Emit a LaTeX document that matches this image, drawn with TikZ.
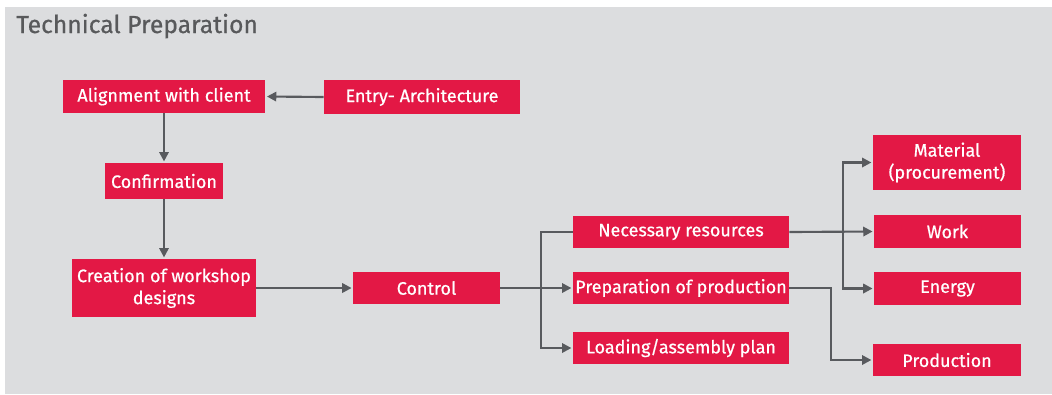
\documentclass[tikz,border=0pt]{standalone}
\usepackage{fontspec}
\setmainfont{Fira Sans}
\newfontfamily\boxfont{Fira Sans}[FakeBold=0.6]
\usetikzlibrary{arrows.meta}
\definecolor{boxred}{RGB}{227, 24, 69}
\definecolor{panelgray}{RGB}{220, 221, 223}
\definecolor{linegray}{RGB}{88, 90, 94}
\definecolor{titlegray}{RGB}{88, 89, 91}
\tikzstyle{arrow} = [line width=1.6pt, draw=linegray, -{Triangle[length=7pt,width=7pt]}]
\tikzstyle{link} = [line width=1.6pt, draw=linegray]
\tikzstyle{stage} = [fill=boxred, text=white, inner sep=0pt, align=center,
    font=\boxfont\fontsize{13.5}{16.5}\selectfont]

\begin{document}
\begin{tikzpicture}[x=0.75pt, y=-0.75pt]
        % Panel
        \useasboundingbox (0,0) rectangle (1052,394);
        \fill [panelgray] (5,7) rectangle (1052,394);
        \node (title) at (16,33) [anchor=base west, inner sep=0pt, text=titlegray,
        font=\boxfont\fontsize{18.5}{22}\selectfont] {Technical Preparation};

        % Left column
        \node (align) at (164,96.5) [stage, minimum width=152pt, minimum height=25pt] {Alignment with client};
        \node (entry) at (422,97) [stage, minimum width=147pt, minimum height=25.5pt] {Entry- Architecture};
        \node (confirm) at (164,181) [stage, minimum width=88.5pt, minimum height=27pt] {Confirmation};
        \node (create) at (164,288) [stage, minimum width=138pt, minimum height=43.5pt] {Creation of workshop\\designs};
        \node (control) at (426.5,288) [stage, minimum width=110pt, minimum height=24pt] {Control};

        % Middle column
        \node (resources) at (681,232) [stage, minimum width=162pt, minimum height=24pt] {Necessary resources};
        \node (prep) at (681,288) [stage, minimum width=162pt, minimum height=24pt] {Preparation of production};
        \node (loading) at (681,348) [stage, minimum width=162pt, minimum height=24pt] {Loading/assembly plan};

        % Right column
        \node (material) at (947,162.5) [stage, minimum width=111pt, minimum height=41pt] {Material\\(procurement)};
        \node (work) at (947.5,231.5) [stage, minimum width=110pt, minimum height=25pt] {Work};
        \node (energy) at (947.5,288.5) [stage, minimum width=110pt, minimum height=25pt] {Energy};
        \node (production) at (947,360) [stage, minimum width=111pt, minimum height=24pt] {Production};

        % Branch points
        \coordinate (split1) at (541,288);
        \coordinate (split2) at (843,232);
        \coordinate (split3) at (831,288);

        % Arrows
        \draw [arrow, shorten >=1pt] (entry.west) -- (align.east);
        \draw [arrow, shorten >=1pt] (align.south) -- (confirm.north);
        \draw [arrow, shorten >=1pt] (confirm.south) -- (create.north);
        \draw [arrow, shorten >=1pt] (create.east) -- (control.west);
        \draw [link] (control.east) -- (split1);
        \draw [arrow, shorten >=1pt] (split1) -- (prep.west);
        \draw [link] (split1) |- (resources.west);
        \draw [arrow, shorten >=1pt] (split1) |- (loading.west);
        \draw [arrow, shorten >=1pt] (resources.east) -- (work.west);
        \draw [arrow, shorten >=1pt] (split2) |- (material.west);
        \draw [arrow, shorten >=1pt] (split2) |- (energy.west);
        \draw [arrow, shorten >=1pt] (prep.east) -- (split3) |- (production.west);
\end{tikzpicture}
\end{document}
